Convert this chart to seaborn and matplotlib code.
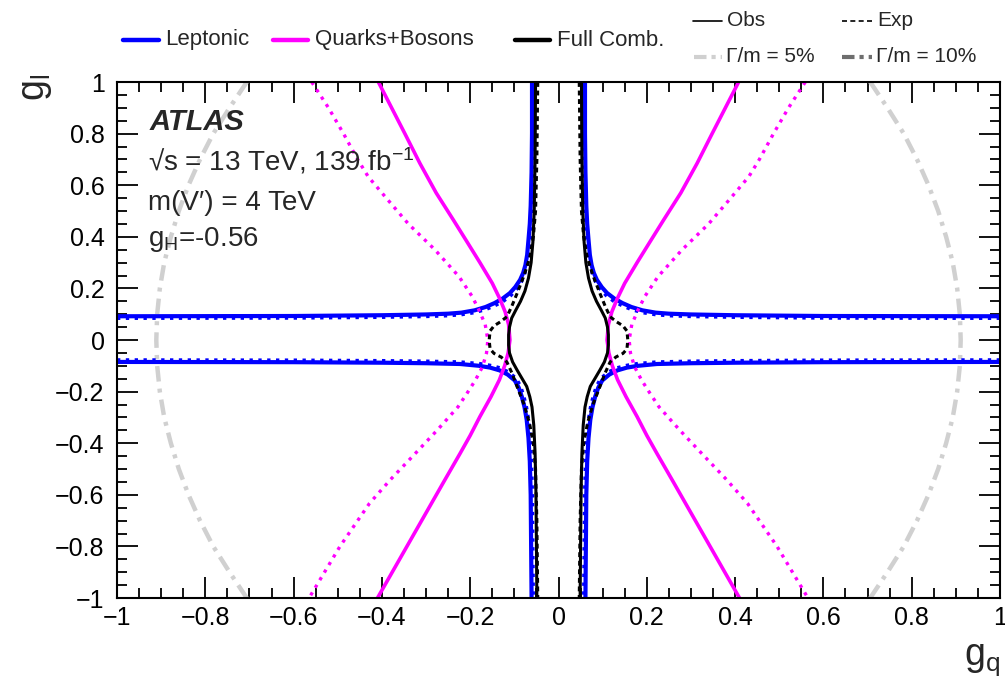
import numpy as np
import pandas as pd
import seaborn as sns
import matplotlib
matplotlib.use("Agg")
import matplotlib.pyplot as plt
from matplotlib.lines import Line2D
from matplotlib.ticker import MultipleLocator, FuncFormatter

# ---------------- data (left half, g_q < 0; chart is symmetric in g_q) ----------------
# Leptonic observed
lep_obs_up_gq = [-1.0, -0.6, -0.4, -0.3, -0.25, -0.22, -0.19, -0.165, -0.145, -0.127, -0.11, -0.098, -0.087, -0.08, -0.075, -0.071, -0.068, -0.065, -0.063, -0.061, -0.060, -0.060]
lep_obs_up_gl = [0.092, 0.093, 0.096, 0.099, 0.102, 0.106, 0.115, 0.128, 0.143, 0.16, 0.182, 0.205, 0.233, 0.26, 0.29, 0.33, 0.388, 0.45, 0.52, 0.65, 0.8, 1.0]
lep_obs_lo_gq = [-1.0, -0.6, -0.4, -0.3, -0.223, -0.18, -0.155, -0.133, -0.115, -0.099, -0.09, -0.083, -0.077, -0.072, -0.068, -0.065, -0.063, -0.062, -0.061]
lep_obs_lo_gl = [-0.085, -0.086, -0.088, -0.09, -0.093, -0.1, -0.107, -0.118, -0.134, -0.157, -0.185, -0.22, -0.26, -0.31, -0.38, -0.47, -0.6, -0.8, -1.0]
# Leptonic expected
lep_exp_up_gq = [-1.0, -0.6, -0.4, -0.3, -0.25, -0.22, -0.19, -0.165, -0.145, -0.125, -0.108, -0.095, -0.084, -0.077, -0.071, -0.067, -0.064, -0.061, -0.059, -0.057, -0.056, -0.056]
lep_exp_up_gl = [0.084, 0.085, 0.088, 0.091, 0.094, 0.098, 0.106, 0.118, 0.132, 0.15, 0.172, 0.196, 0.225, 0.255, 0.29, 0.33, 0.388, 0.45, 0.52, 0.65, 0.8, 1.0]
lep_exp_lo_gq = [-1.0, -0.6, -0.4, -0.3, -0.223, -0.18, -0.155, -0.132, -0.113, -0.096, -0.086, -0.079, -0.073, -0.068, -0.064, -0.061, -0.059, -0.058, -0.057]
lep_exp_lo_gl = [-0.077, -0.078, -0.08, -0.082, -0.085, -0.091, -0.098, -0.108, -0.124, -0.148, -0.178, -0.215, -0.255, -0.305, -0.375, -0.47, -0.6, -0.8, -1.0]
# Quarks+Bosons observed / expected
qb_obs_gq = [-0.408, -0.378, -0.348, -0.314, -0.277, -0.238, -0.207, -0.178, -0.150, -0.133, -0.121, -0.113, -0.110, -0.114, -0.122, -0.134, -0.153, -0.178, -0.2, -0.223, -0.26, -0.31, -0.36, -0.41]
qb_obs_gl = [1.0, 0.9, 0.8, 0.685, 0.57, 0.465, 0.38, 0.30, 0.22, 0.16, 0.11, 0.06, 0.0, -0.05, -0.1, -0.155, -0.22, -0.297, -0.37, -0.44, -0.55, -0.7, -0.85, -1.0]
qb_exp_gq = [-0.559, -0.521, -0.487, -0.455, -0.431, -0.385, -0.34, -0.28, -0.225, -0.196, -0.18, -0.166, -0.16, -0.163, -0.172, -0.188, -0.207, -0.228, -0.275, -0.33, -0.38, -0.428, -0.495, -0.565]
qb_exp_gl = [1.0, 0.9, 0.8, 0.7, 0.633, 0.54, 0.45, 0.35, 0.245, 0.17, 0.116, 0.06, 0.0, -0.05, -0.103, -0.155, -0.206, -0.26, -0.35, -0.45, -0.54, -0.633, -0.8, -1.0]
# Full combination observed / expected
full_obs_gq = [-0.052, -0.053, -0.055, -0.058, -0.062, -0.068, -0.076, -0.086, -0.097, -0.106, -0.111, -0.113, -0.113, -0.111, -0.104, -0.094, -0.083, -0.072, -0.065, -0.06, -0.056, -0.053, -0.051, -0.049]
full_obs_gl = [1.0, 0.7, 0.5, 0.38, 0.3, 0.24, 0.19, 0.15, 0.115, 0.085, 0.05, 0.02, -0.02, -0.05, -0.085, -0.116, -0.148, -0.18, -0.22, -0.26, -0.33, -0.44, -0.6, -1.0]
full_exp_gq = [-0.047, -0.049, -0.052, -0.057, -0.065, -0.078, -0.094, -0.106, -0.117, -0.132, -0.146, -0.155, -0.157, -0.155, -0.146, -0.13, -0.117, -0.105, -0.094, -0.078, -0.066, -0.057, -0.052, -0.049, -0.047]
full_exp_gl = [1.0, 0.7, 0.5, 0.4, 0.32, 0.25, 0.18, 0.13, 0.09, 0.07, 0.055, 0.035, 0.0, -0.035, -0.052, -0.066, -0.085, -0.13, -0.18, -0.25, -0.32, -0.4, -0.5, -0.7, -1.0]
# Gamma/m = 5% contour
w5_gq = [-0.706, -0.745, -0.782, -0.812, -0.838, -0.86, -0.878, -0.893, -0.903, -0.909, -0.911,
         -0.909, -0.903, -0.893, -0.878, -0.86, -0.838, -0.812, -0.782, -0.745, -0.706]
w5_gl = [1.0, 0.9, 0.8, 0.7, 0.6, 0.5, 0.4, 0.3, 0.2, 0.1, 0.0,
         -0.1, -0.2, -0.3, -0.4, -0.5, -0.6, -0.7, -0.8, -0.9, -1.0]

xticks = [-1, -0.8, -0.6, -0.4, -0.2, 0, 0.2, 0.4, 0.6, 0.8, 1]
yticks = [-1, -0.8, -0.6, -0.4, -0.2, 0, 0.2, 0.4, 0.6, 0.8, 1]

# ---------------- style ----------------
sns.set_theme(style="ticks")
plt.rcParams["font.family"] = ["Liberation Sans", "DejaVu Sans"]
plt.rcParams["mathtext.fontset"] = "custom"
plt.rcParams["mathtext.rm"] = "Liberation Sans"
plt.rcParams["mathtext.it"] = "Liberation Sans:italic"
plt.rcParams["mathtext.bf"] = "Liberation Sans:bold"

W, H = 1005, 690
fig = plt.figure(figsize=(W / 100, H / 100), dpi=100)
ax = fig.add_axes([117 / W, 92 / H, 883 / W, 516 / H])

def both(gq, gl):
    """left branch and its mirror image (symmetry in g_q)."""
    gq = np.asarray(gq, float)
    return [(gq, gl), (-gq, gl)]

def draw(gq, gl, **kw):
    for x, y in both(gq, gl):
        df = pd.DataFrame({"gq": x, "gl": y})
        sns.lineplot(data=df, x="gq", y="gl", sort=False, estimator=None, ax=ax, **kw)

GRAY5 = "#d0d0d0"
GRAY10 = "#6e6e6e"
BLUE = "#0000ff"
MAG = "#ff00ff"

draw(w5_gq, w5_gl, color=GRAY5, lw=3.2, dashes=(3.5, 1.6, 0.9, 1.6))
draw(lep_exp_up_gq, lep_exp_up_gl, color=BLUE, lw=2.4, linestyle=":")
draw(lep_exp_lo_gq, lep_exp_lo_gl, color=BLUE, lw=2.4, linestyle=":")
draw(lep_obs_up_gq, lep_obs_up_gl, color=BLUE, lw=3.0)
draw(lep_obs_lo_gq, lep_obs_lo_gl, color=BLUE, lw=3.0)
draw(qb_exp_gq, qb_exp_gl, color=MAG, lw=2.4, linestyle=":")
draw(qb_obs_gq, qb_obs_gl, color=MAG, lw=2.6)
draw(full_exp_gq, full_exp_gl, color="black", lw=2.2, dashes=(1.6, 1.2))
draw(full_obs_gq, full_obs_gl, color="black", lw=2.2)

ax.set_xlim(-1, 1)
ax.set_ylim(-1, 1)
ax.set_xlabel("")
ax.set_ylabel("")
ax.set_xticks(xticks)
ax.set_yticks(yticks)
ax.xaxis.set_minor_locator(MultipleLocator(0.05))
ax.yaxis.set_minor_locator(MultipleLocator(0.05))
fmt = FuncFormatter(lambda v, _: ("%g" % round(v, 2)).replace("-", "\u2212"))
ax.xaxis.set_major_formatter(fmt)
ax.yaxis.set_major_formatter(fmt)
ax.tick_params(which="both", direction="in", top=True, right=True, colors="black",
               labelsize=18, width=1.3)
ax.tick_params(which="major", length=15)
ax.tick_params(which="minor", length=7.5)
ax.tick_params(axis="x", pad=6)
ax.tick_params(axis="y", pad=9)
for s in ax.spines.values():
    s.set_linewidth(1.5)
    s.set_color("black")

# axis titles
fig.text(982 / W, 1 - 660 / H, r"g$_\mathregular{q}$", fontsize=27, ha="center", va="center")
fig.text(36 / W, 1 - 74 / H, r"g$_\mathregular{l}$", fontsize=27, ha="center", va="top", rotation=90)

# ATLAS labels
fig.text(150 / W, 1 - 122 / H, "ATLAS", fontsize=21, weight="bold", style="italic", va="center")
fig.text(148 / W, 1 - 161 / H, "\u221As = 13 TeV, 139 fb$^{\\mathregular{-1}}$", fontsize=20, va="center")
fig.text(148 / W, 1 - 203 / H, "m(V\u2032) = 4 TeV", fontsize=20, va="center")
fig.text(148 / W, 1 - 240 / H, r"g$_\mathregular{H}$=-0.56", fontsize=20, va="center")

# legend (figure level)
def fx(px):
    return px / W

def fy(py):
    return 1 - py / H

def leg(x0, x1, y, text, tx, fs, **kw):
    fig.add_artist(Line2D([fx(x0), fx(x1)], [fy(y), fy(y)], transform=fig.transFigure, **kw))
    fig.text(fx(tx), fy(y), text, fontsize=fs, va="center", ha="left")

leg(123, 159, 40, "Leptonic", 165, 16, color=BLUE, lw=3.2)
leg(273, 308, 40, "Quarks+Bosons", 315, 16, color=MAG, lw=3.2)
leg(515, 550, 40, "Full Comb.", 557, 16, color="black", lw=3.2)
leg(693, 722, 21, "Obs", 727, 15, color="black", lw=1.2)
leg(842, 872, 21, "Exp", 877, 15, color="black", lw=1.2, dashes=(3, 2))
leg(694, 722, 57, "\u0393/m = 5%", 726, 15, color=GRAY5, lw=3.0, dashes=(3, 1.2, 1, 1.2, 1, 1.2))
leg(842, 872, 57, "\u0393/m = 10%", 876, 15, color=GRAY10, lw=3.0, dashes=(3, 1.2, 1, 1.2, 1, 1.2))

fig.savefig("out.png", dpi=100)
